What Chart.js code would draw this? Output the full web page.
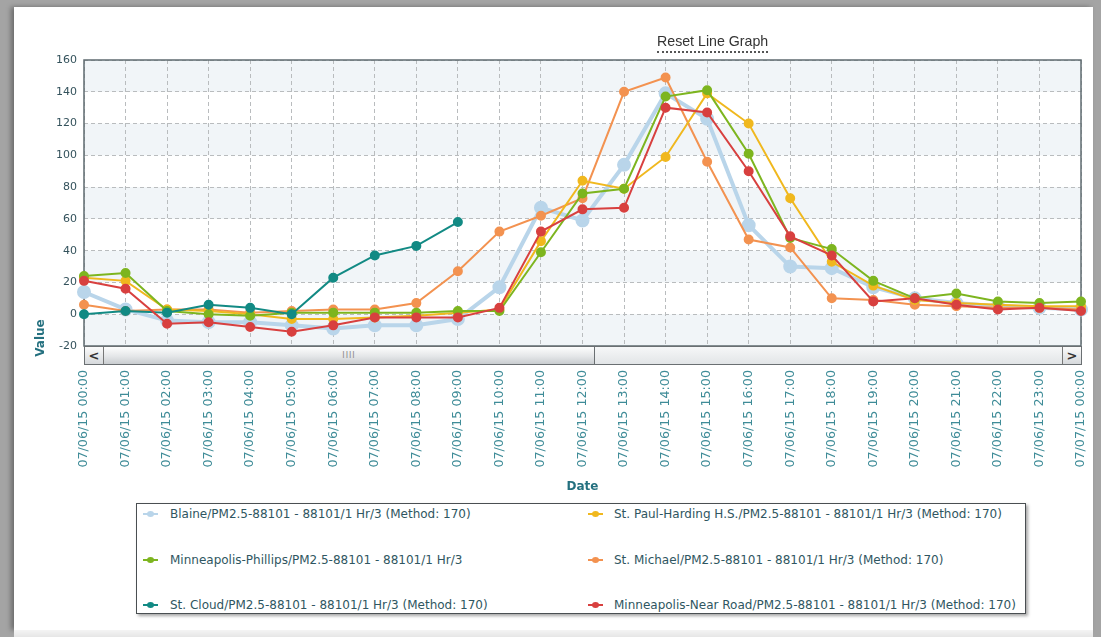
<!DOCTYPE html>
<html>
<head>
<meta charset="utf-8">
<script src="https://cdn.jsdelivr.net/npm/chart.js@4/dist/chart.umd.min.js"></script>
<style>
  html, body { margin: 0; padding: 0; }
  body { width: 1101px; height: 637px; background: #a4a4a4; position: relative; overflow: hidden; font-family: "DejaVu Sans", Verdana, sans-serif; }
  #panel { position: absolute; left: 14px; top: 7px; width: 1079px; height: 623px; background: #fff; box-shadow: -3px 0 5px rgba(0,0,0,0.35); }
  #bottomStrip { position: absolute; left: 14px; top: 630px; width: 1079px; height: 7px; background: linear-gradient(#f4f4f4, #e6e6e6); }
  #c { position: absolute; left: 0; top: 0; }
  #reset { position: absolute; left: 657px; top: 33px; font: 14.2px "Liberation Sans", Arial, sans-serif; color: #333; border-bottom: 2px dotted #555; line-height: 17px; padding-bottom: 1px; }
  #yTitle { position: absolute; left: 20px; top: 331px; width: 40px; text-align: center; transform: rotate(-90deg); font: bold 12px "DejaVu Sans", sans-serif; color: #24707f; }
  #scroll { position: absolute; height: 19px; border: 1px solid #6a6f72; box-sizing: border-box; background: linear-gradient(#f6f7f8, #e2e5e7); }
  #scroll .btn { position: absolute; top: 0; width: 18px; height: 17px; font: bold 13px "DejaVu Sans", sans-serif; color: #333; text-align: center; line-height: 17px; background: linear-gradient(#fbfbfb, #d6d9dc); }
  #scroll .l { left: 0; border-right: 1px solid #777; }
  #scroll .r { right: 0; border-left: 1px solid #777; }
  #scroll .thumb { position: absolute; top: 0; height: 17px; left: 19px; background: linear-gradient(#fdfdfd, #e4e6e8 55%, #c9cdd0); border-right: 1px solid #6a6f72; text-align: center; font: 8px "DejaVu Sans", sans-serif; color: #8a8a8a; line-height: 17px; letter-spacing: 1px; }
  #legend { position: absolute; left: 136px; top: 503px; width: 890px; height: 111px; box-sizing: border-box; border: 1px solid #4a4f52; background: #fff; box-shadow: 2px 2px 3px rgba(0,0,0,0.35); }
  #legend .item { position: absolute; height: 16px; line-height: 16px; font-size: 12px; color: #2f5661; white-space: nowrap; }
  #legend .mk { position: absolute; left: 0; top: 7px; width: 15px; height: 2px; }
  #legend .dot { position: absolute; left: 4px; top: -2px; width: 7px; height: 6px; border-radius: 50%; }
  #legend .txt { position: absolute; }
</style>
</head>
<body>
<div id="panel"></div>
<div id="bottomStrip"></div>
<canvas id="c" width="1101" height="500"></canvas>
<div id="reset">Reset Line Graph</div>
<div id="yTitle">Value</div>
<div id="scroll">
  <div class="btn l">&lt;</div>
  <div class="thumb">IIII</div>
  <div class="btn r">&gt;</div>
</div>
<div id="legend"></div>
<script>
// categories: hourly readings 07/06/15 00:00 .. 07/07/15 00:00
const dateLabels = [
    '07/06/15 00:00', '07/06/15 01:00', '07/06/15 02:00', '07/06/15 03:00', '07/06/15 04:00',
    '07/06/15 05:00', '07/06/15 06:00', '07/06/15 07:00', '07/06/15 08:00', '07/06/15 09:00',
    '07/06/15 10:00', '07/06/15 11:00', '07/06/15 12:00', '07/06/15 13:00', '07/06/15 14:00',
    '07/06/15 15:00', '07/06/15 16:00', '07/06/15 17:00', '07/06/15 18:00', '07/06/15 19:00',
    '07/06/15 20:00', '07/06/15 21:00', '07/06/15 22:00', '07/06/15 23:00', '07/07/15 00:00'
];

// PM2.5 values
const blaine       = [14, 3, -4, -5, -5, -7, -9, -7, -7, -3, 17, 67, 59, 94, 139, 123, 56, 30, 29, 17, 10, 7, 5, 4, 3];
const stPaul       = [23, 21, 3, 2, 0, -3, -3, -2, -1, 1, 3, 46, 84, 79, 99, 139, 120, 73, 33, 18, 9, 7, 6, 5, 5];
const phillips     = [24, 26, 2, 0, -1, 1, 1, 1, 1, 2, 2, 39, 76, 79, 137, 141, 101, 48, 41, 21, 10, 13, 8, 7, 8];
const stMichael    = [6, 2, 3, 3, 1, 2, 3, 3, 7, 27, 52, 62, 73, 140, 149, 96, 47, 42, 10, 9, 6, 5, 4, 4, 3];
const stCloud      = [0, 2, 1, 6, 4, 0, 23, 37, 43, 58, null, null, null, null, null, null, null, null, null, null, null, null, null, null, null];
const nearRoad     = [21, 16, -6, -5, -8, -11, -7, -2, -2, -2, 4, 52, 66, 67, 130, 127, 90, 49, 37, 8, 10, 6, 3, 4, 2];

const seriesNames = [
    'Blaine/PM2.5-88101 - 88101/1 Hr/3 (Method: 170)',
    'St. Paul-Harding H.S./PM2.5-88101 - 88101/1 Hr/3 (Method: 170)',
    'Minneapolis-Phillips/PM2.5-88101 - 88101/1 Hr/3',
    'St. Michael/PM2.5-88101 - 88101/1 Hr/3 (Method: 170)',
    'St. Cloud/PM2.5-88101 - 88101/1 Hr/3 (Method: 170)',
    'Minneapolis-Near Road/PM2.5-88101 - 88101/1 Hr/3 (Method: 170)'
];
const seriesColors = ['#b9d5ea', '#f0b81e', '#7db51f', '#f39250', '#128a84', '#d8403f'];
const yTicks = { min: -20, max: 160, step: 20 };

const fontFamily = '"DejaVu Sans", Verdana, sans-serif';
const allValues = [blaine, stPaul, phillips, stMichael, stCloud, nearRoad];
const drawOrder = [5, 3, 2, 4, 1, 0]; // red on top, blaine at bottom

function makeDataset(i) {
    const isBlaine = i === 0;
    return {
        label: seriesNames[i],
        data: allValues[i],
        borderColor: seriesColors[i],
        backgroundColor: seriesColors[i],
        pointBackgroundColor: seriesColors[i],
        pointBorderColor: seriesColors[i],
        borderWidth: isBlaine ? 4 : 2,
        pointRadius: isBlaine ? 5 : 4,
        pointHoverRadius: 5,
        tension: 0,
        spanGaps: false,
        order: drawOrder[i]
    };
}

// alternate light bands between the y grid lines, plus the plot frame
const plotBands = {
    id: 'plotBands',
    beforeDraw(chart) {
        const { ctx, chartArea: a, scales: { y } } = chart;
        ctx.save();
        ctx.fillStyle = '#ffffff';
        ctx.fillRect(a.left, a.top, a.right - a.left, a.bottom - a.top);
        ctx.fillStyle = '#f1f5f8';
        for (let i = 0; i < y.ticks.length - 1; i += 2) {
            const y0 = y.getPixelForValue(y.ticks[i].value);
            const y1 = y.getPixelForValue(y.ticks[i + 1].value);
            ctx.fillRect(a.left, y1, a.right - a.left, y0 - y1);
        }
        ctx.restore();
    },
    beforeDatasetsDraw(chart) {
        const { ctx, chartArea: a } = chart;
        ctx.save();
        ctx.strokeStyle = '#5f6b70';
        ctx.lineWidth = 1.5;
        ctx.strokeRect(a.left, a.top, a.right - a.left, a.bottom - a.top);
        ctx.restore();
    }
};

const chart = new Chart(document.getElementById('c'), {
    type: 'line',
    data: {
        labels: dateLabels,
        datasets: seriesNames.map((_, i) => makeDataset(i))
    },
    options: {
        responsive: false,
        animation: false,
        layout: { padding: { left: 30, top: 60, right: 20, bottom: 0 } },
        plugins: {
            legend: { display: false },
            tooltip: { enabled: false }
        },
        scales: {
            x: {
                grid: { color: '#b9bcbe', drawTicks: false },
                border: { display: false, dash: [4, 3] },
                ticks: {
                    color: '#3f8c98', font: { family: fontFamily, size: 12.7 },
                    minRotation: 90, maxRotation: 90, autoSkip: false, padding: 24
                },
                title: {
                    display: true, text: 'Date', color: '#24707f',
                    font: { family: fontFamily, size: 12, weight: 'bold' },
                    padding: { top: 4, bottom: 6 }
                },
                afterFit(scale) {
                    scale.height = 154;
                    // the rotated last label should not shrink the plot
                    scale.paddingRight = 0;
                    scale.paddingLeft = 0;
                }
            },
            y: {
                min: yTicks.min, max: yTicks.max,
                grid: { color: '#b9bcbe', drawTicks: false },
                border: { display: false, dash: [4, 3] },
                ticks: { stepSize: yTicks.step, color: '#34525c', font: { family: fontFamily, size: 11 }, padding: 7 },
                afterFit(scale) { scale.width = 54; }
            }
        }
    },
    plugins: [plotBands]
});

// scrollbar strip under the plot, aligned to the chart area
const area = chart.chartArea;
const scroll = document.getElementById('scroll');
scroll.style.left = area.left + 'px';
scroll.style.top = area.bottom + 'px';
scroll.style.width = (area.right - area.left + 1) + 'px';
scroll.querySelector('.thumb').style.width = '490px';

// legend built from the chart datasets, two columns
const legendEl = document.getElementById('legend');
chart.data.datasets.forEach((ds, i) => {
    const col = i % 2, row = Math.floor(i / 2);
    const item = document.createElement('div');
    item.className = 'item';
    item.style.left = (col === 0 ? 6 : 451) + 'px';
    item.style.top = (2 + row * 45.5) + 'px';
    item.innerHTML = '<div class="mk" style="background:' + ds.borderColor + '"><div class="dot" style="background:' +
        ds.borderColor + '"></div></div><span class="txt" style="left:' + (col === 0 ? 27 : 26) + 'px">' + ds.label + '</span>';
    legendEl.appendChild(item);
});
</script>
</body>
</html>
